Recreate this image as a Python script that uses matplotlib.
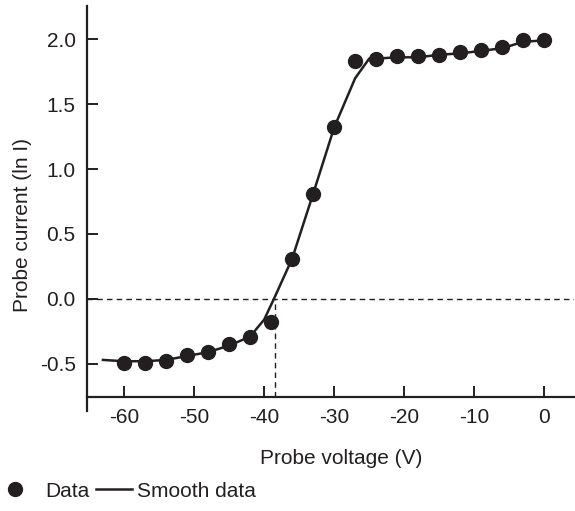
import matplotlib.pyplot as plt

# Data
voltage = [-60, -57, -54, -51, -48, -45, -42, -39, -36, -33, -30,
           -27, -24, -21, -18, -15, -12, -9, -6, -3, 0]
current = [-0.49, -0.49, -0.48, -0.43, -0.41, -0.35, -0.29, -0.18, 0.31, 0.81, 1.32,
           1.83, 1.85, 1.87, 1.87, 1.88, 1.90, 1.92, 1.94, 1.99, 1.99]

smooth_v = [-63, -60, -57, -54, -51, -48, -45, -42, -40, -38.6, -36, -33, -30,
            -27, -25, -24, -21, -18, -15, -12, -9, -6, -3, 0]
smooth_i = [-0.47, -0.48, -0.48, -0.47, -0.44, -0.41, -0.36, -0.29, -0.16, 0.0, 0.31, 0.81, 1.32,
            1.70, 1.85, 1.85, 1.86, 1.86, 1.88, 1.89, 1.91, 1.93, 1.98, 1.99]

v_float = -38.4  # floating potential (where smooth curve crosses 0)

xticks = [-60, -50, -40, -30, -20, -10, 0]
yticks = [-0.5, 0.0, 0.5, 1.0, 1.5, 2.0]

ink = "#231f20"
plt.rcParams["font.family"] = ["Liberation Sans", "DejaVu Sans"]
plt.rcParams["font.size"] = 15

fig = plt.figure(figsize=(5.75, 5.11), dpi=100)
ax = fig.add_axes([0.151, 0.196, 0.847, 0.792])

y_axis = -0.754
ax.set_xlim(-65.3, 4.2)
ax.set_ylim(-0.862, 2.254)

# reference lines
ax.axhline(0, color=ink, lw=1, ls=(0, (4, 3)))
ax.plot([v_float, v_float], [y_axis, 0], color=ink, lw=1, ls=(0, (4, 3)))

line, = ax.plot(smooth_v, smooth_i, color=ink, lw=1.8, zorder=3)
pts, = ax.plot(voltage, current, "o", color=ink, ms=10, ls="none", zorder=4)

for s in ["top", "right"]:
    ax.spines[s].set_visible(False)
ax.spines["bottom"].set_position(("data", y_axis))
for s in ["left", "bottom"]:
    ax.spines[s].set_linewidth(1.6)
    ax.spines[s].set_color(ink)

ax.set_xticks(xticks)
ax.set_xticklabels([str(t) for t in xticks])
ax.set_yticks(yticks)
ax.set_yticklabels([f"{t:.1f}" for t in yticks])
ax.tick_params(direction="in", length=8, width=1.4, colors=ink, labelcolor=ink)
ax.tick_params(axis="y", pad=8)
ax.tick_params(axis="x", pad=8)

ax.set_xlabel("Probe voltage (V)", color=ink)
ax.xaxis.set_label_coords(0.522, -0.094)
ax.set_ylabel("Probe current (ln I)", color=ink)
ax.yaxis.set_label_coords(-0.113, 0.46)

leg1 = ax.legend([pts], ["Data"], loc="center left", bbox_to_anchor=(0.012, 0.039),
                 bbox_transform=fig.transFigure, frameon=False, borderpad=0,
                 borderaxespad=0, handlelength=0.75, handletextpad=1.07)
for t in leg1.get_texts():
    t.set_color(ink)
ax.add_artist(leg1)
leg2 = ax.legend([line], ["Smooth data"], loc="center left", bbox_to_anchor=(0.167, 0.039),
                 bbox_transform=fig.transFigure, frameon=False, borderpad=0,
                 borderaxespad=0, handlelength=1.75, handletextpad=0.2)
for t in leg2.get_texts():
    t.set_color(ink)

fig.savefig("out.png", dpi=100)
